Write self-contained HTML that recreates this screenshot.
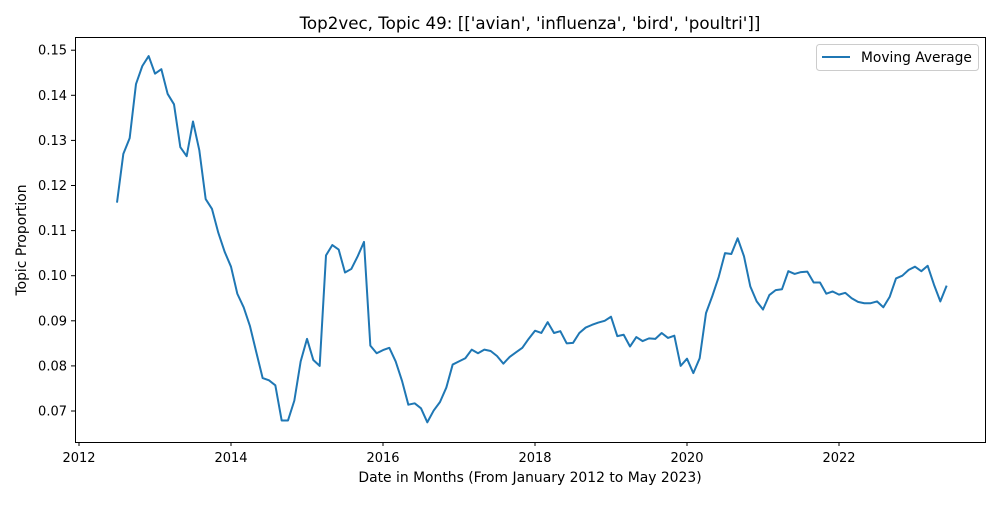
<!DOCTYPE html>
<html><head><meta charset="utf-8"><style>
body{margin:0;background:#fff;font-family:"Liberation Sans","DejaVu Sans",sans-serif}
svg text{font-family:"DejaVu Sans","Liberation Sans",sans-serif}
</style></head><body>
<svg id="chart" width="1000" height="500" xmlns="http://www.w3.org/2000/svg">
<text x="530" y="29" font-size="16.7" text-anchor="middle">Top2vec, Topic 49: [['avian', 'influenza', 'bird', 'poultri']]</text>
<g id="xt"></g>
<g id="yt"></g>
<path id="line" fill="none" stroke="#1f77b4" stroke-width="2" stroke-linejoin="round"/>
<rect x="75.5" y="37.5" width="910" height="405" fill="none" stroke="#000" stroke-width="1"/>
<text x="530" y="482" font-size="13.9" text-anchor="middle">Date in Months (From January 2012 to May 2023)</text>
<text x="26" y="240" font-size="13.9" text-anchor="middle" transform="rotate(-90 26 240)">Topic Proportion</text>
<g>
<rect x="816.5" y="44.5" width="162" height="26" rx="3" fill="#fff" stroke="#ccc"/>
<line x1="822" y1="57" x2="850" y2="57" stroke="#1f77b4" stroke-width="2"/>
<text x="861" y="62" font-size="13.8">Moving Average</text>
</g>
</svg>
<script>
const startYear = 2012.5;
const values = [0.1162,0.127,0.1305,0.1425,0.1465,0.1487,0.1448,0.1458,0.1403,0.1380,0.1285,0.1265,0.1342,0.1278,0.1170,0.1148,0.1095,0.1053,0.1020,0.0960,0.0930,0.0888,0.0830,0.0773,0.0768,0.0757,0.0679,0.0679,0.0723,0.0810,0.0860,0.0813,0.0800,0.1045,0.1068,0.1058,0.1007,0.1015,0.1043,0.1075,0.0845,0.0828,0.0835,0.0840,0.0810,0.0767,0.0714,0.0717,0.0706,0.0675,0.0701,0.0720,0.0752,0.0803,0.0810,0.0817,0.0836,0.0828,0.0836,0.0833,0.0822,0.0805,0.0820,0.0830,0.0840,0.0860,0.0878,0.0873,0.0897,0.0873,0.0877,0.0850,0.0851,0.0873,0.0885,0.0891,0.0896,0.0900,0.0909,0.0866,0.0869,0.0843,0.0864,0.0855,0.0861,0.0860,0.0873,0.0862,0.0867,0.0800,0.0816,0.0784,0.0817,0.0917,0.0955,0.0997,0.1050,0.1048,0.1083,0.1043,0.0976,0.0943,0.0925,0.0957,0.0968,0.0970,0.1010,0.1004,0.1008,0.1009,0.0985,0.0985,0.0960,0.0965,0.0958,0.0962,0.0950,0.0942,0.0939,0.0939,0.0943,0.0930,0.0953,0.0994,0.1000,0.1013,0.1020,0.1010,0.1022,0.0980,0.0943,0.0978];
const xTicks = [2012,2014,2016,2018,2020,2022];
const yTicks = [0.07,0.08,0.09,0.10,0.11,0.12,0.13,0.14,0.15];
const yLabels = ["0.07","0.08","0.09","0.10","0.11","0.12","0.13","0.14","0.15"];
const NS="http://www.w3.org/2000/svg";
const xs = yr => 79 + (yr-2012)*76;
const ys = v => 411 - (v-0.07)*4510;
const xt=document.getElementById('xt'), yt=document.getElementById('yt');
xTicks.forEach(t=>{
  const l=document.createElementNS(NS,'line');
  
  
  l.setAttribute('x1',xs(t));l.setAttribute('x2',xs(t));l.setAttribute('y1',442);l.setAttribute('y2',446);l.setAttribute('stroke','#000');
  xt.appendChild(l);
  const tx=document.createElementNS(NS,'text');
  
  
  tx.setAttribute('x',xs(t));tx.setAttribute('y',462);tx.setAttribute('font-size','13');tx.setAttribute('text-anchor','middle');
  tx.textContent=t;xt.appendChild(tx);
});
yTicks.forEach((t,i)=>{
  const l=document.createElementNS(NS,'line');
  
  
  l.setAttribute('x1',71);l.setAttribute('x2',75);l.setAttribute('y1',ys(t));l.setAttribute('y2',ys(t));l.setAttribute('stroke','#000');
  yt.appendChild(l);
  const tx=document.createElementNS(NS,'text');
  
  
  tx.setAttribute('x',67);tx.setAttribute('y',ys(t)+4.5);tx.setAttribute('font-size','13');tx.setAttribute('text-anchor','end');
  tx.textContent=yLabels[i];yt.appendChild(tx);
});
document.getElementById('line').setAttribute('d',values.map((v,i)=>(i?'L':'M')+xs(startYear+i/12).toFixed(2)+','+ys(v).toFixed(2)).join(''));
</script>
</body></html>
